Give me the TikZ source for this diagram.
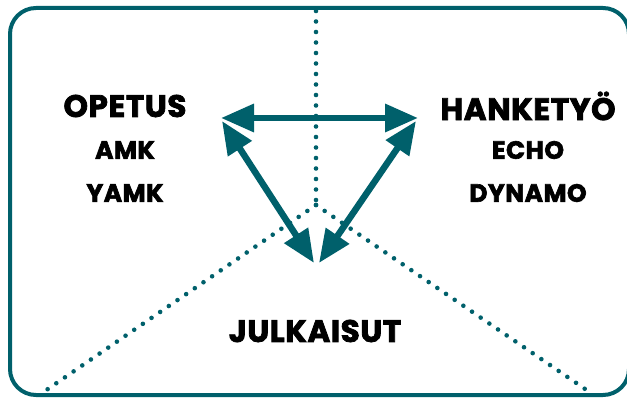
\documentclass[tikz,border=0pt]{standalone}
\usepackage{fontspec}
\setmainfont{Poppins}[BoldFeatures={FakeBold=2.5}, LetterSpace=2]
\usetikzlibrary{arrows.meta}
\definecolor{petrol}{RGB}{0,96,107}

\begin{document}
\begin{tikzpicture}[x=1pt, y=-1pt,
    area/.style={font=\fontsize{31}{33}\selectfont\bfseries, inner sep=0pt},
    sub/.style={font=\fontsize{25}{27}\selectfont\bfseries, inner sep=0pt},
    link/.style={petrol, line width=6.5pt, {Triangle[length=33pt,width=27pt]}-{Triangle[length=33pt,width=27pt]}},
    divider/.style={petrol, line width=4.6pt, line cap=round, dash pattern=on 0pt off 10.5pt}]
    \useasboundingbox (0,0) rectangle (627,398);
    % frame
    \draw[petrol, line width=4pt, rounded corners=26pt] (10,8) rectangle (629,395);
    % dotted sectors
    \coordinate (top) at (316,11);
    \coordinate (mid) at (316,205);
    \coordinate (bl) at (45,391);
    \coordinate (br) at (588,391);
    \draw[divider] (top) -- (mid);
    \draw[divider] (mid) -- (bl);
    \draw[divider] (mid) -- (br);
    % labels
    \node[area] (opetus) at (125,106) {OPETUS};
    \node[sub] (amk) at (125,150) {AMK};
    \node[sub] (yamk) at (125,193) {YAMK};
    \node[area] (hanke) at (528,106) {HANKETYÖ};
    \node[sub] (echo) at (528,150) {ECHO};
    \node[sub] (dynamo) at (528,193) {DYNAMO};
    \node[area] (julk) at (315,331) {JULKAISUT};
    % arrows
    \coordinate (opA) at (221,118);
    \coordinate (haA) at (418,118);
    \coordinate (opB) at (222,121);
    \coordinate (haB) at (416,121);
    \coordinate (juL) at (314,263);
    \coordinate (juR) at (319,263);
    \draw[link] (opA) -- (haA);
    \draw[link] (opB) -- (juL);
    \draw[link] (haB) -- (juR);
\end{tikzpicture}
\end{document}
